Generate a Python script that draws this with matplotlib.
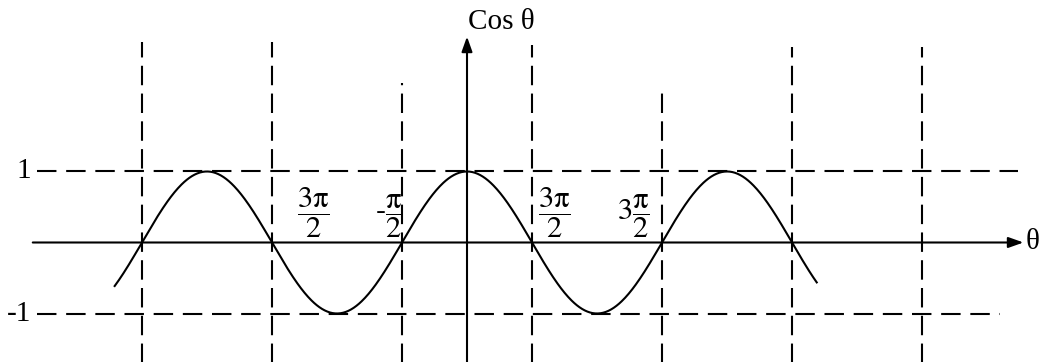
import matplotlib
matplotlib.use("Agg")
import matplotlib.pyplot as plt
import numpy as np

plt.rcParams["font.family"] = ["Liberation Serif", "DejaVu Serif"]
plt.rcParams["mathtext.fontset"] = "stix"
plt.rcParams["lines.scale_dashes"] = False

# theta measured in units of pi
curve_start, curve_end = -2.71, 2.69
# vertical guide lines at odd multiples of pi/2
guide_x = [-2.5, -1.5, -0.5, 0.5, 1.5, 2.5, 3.5]
guide_top = [2.82, 2.82, 2.25, 2.78, 2.18, 2.75, 2.75]
levels = [1, -1]
level_labels = ["1", "-1"]
level_right = [4.24, 4.10]
frac_labels = [r"$\dfrac{3\mathrm{\pi}}{2}$", r"$\text{-}\dfrac{\mathrm{\pi}}{2}$",
               r"$\dfrac{3\mathrm{\pi}}{2}$", r"$3\dfrac{\mathrm{\pi}}{2}$"]
frac_x = [-1.18, -0.60, 0.67, 1.28]

fig = plt.figure(figsize=(10.44, 3.62), dpi=100)
ax = fig.add_axes([0, 0, 1, 1])
ax.set_xlim(-3.592, 4.438)
ax.set_ylim(-1.683, 3.415)
ax.axis("off")

lw = 1.5
hdash = (14, 7)
vdash = (14, 6)

# dashed reference levels at +1 and -1
for lev, lab, xr in zip(levels, level_labels, level_right):
    ax.plot([-3.31, xr], [lev, lev], color="k", lw=lw, dashes=hdash)
    ax.text(-3.35, lev, lab, ha="right", va="center", fontsize=21)

# dashed verticals
for gx, top in zip(guide_x, guide_top):
    ax.plot([gx, gx], [-1.9, top], color="k", lw=lw, dashes=vdash)

# axes with arrow heads
arrow = dict(arrowstyle="-|>,head_length=0.45,head_width=0.16", color="k",
             lw=lw, shrinkA=0, shrinkB=0, mutation_scale=20)
ax.annotate("", xy=(4.28, 0), xytext=(-3.34, 0), arrowprops=arrow)
ax.annotate("", xy=(0, 2.9), xytext=(0, -1.9), arrowprops=arrow)
ax.text(4.30, 0, "θ", ha="left", va="center", fontsize=21)
ax.text(0.005, 3.1, "Cos θ", ha="left", va="center", fontsize=21)

# the cosine curve
t = np.linspace(curve_start, curve_end, 800)
ax.plot(t, np.cos(np.pi * t), color="k", lw=lw)

for lab, fx in zip(frac_labels, frac_x):
    ax.text(fx, 0.03, lab, ha="center", va="bottom", fontsize=22)

fig.savefig("out.png", dpi=100, facecolor="white")
